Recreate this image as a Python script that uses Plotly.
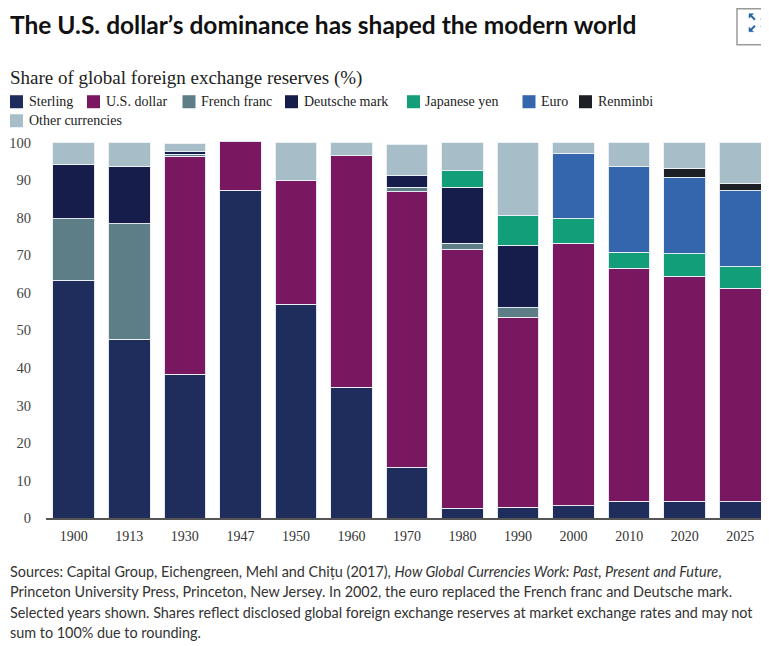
import plotly.graph_objects as go

years = ["1900", "1913", "1930", "1947", "1950", "1960", "1970",
         "1980", "1990", "2000", "2010", "2020", "2025"]
sterling = [63.3, 47.6, 38.3, 87.4, 57.0, 34.9, 13.4, 2.6, 2.8, 3.3, 4.5, 4.5, 4.3]
us_dollar = [None, None, 58.1, 13.0, 33.0, 61.7, 73.6, 68.9, 50.7, 69.9, 62.1, 59.9, 56.9]
french_franc = [16.4, 30.8, 0.6, None, None, None, 1.2, 1.7, 2.5, None, None, None, None]
deutsche_mark = [14.6, 15.4, 0.6, None, None, None, 3.1, 15.0, 16.7, None, None, None, None]
japanese_yen = [None, None, None, None, None, None, None, 4.4, 8.0, 6.5, 4.2, 6.0, 5.7]
euro = [None, None, None, None, None, None, None, None, None, 17.5, 23.0, 20.4, 20.3]
renminbi = [None, None, None, None, None, None, None, None, None, None, None, 2.4, 2.0]
other = [5.7, 6.2, 2.1, None, 10.0, 3.4, 8.3, 7.4, 19.3, 2.8, 6.2, 6.8, 10.8]

series_names = ["Sterling", "U.S. dollar", "French franc", "Deutsche mark",
                "Japanese yen", "Euro", "Renminbi", "Other currencies"]
series_values = [sterling, us_dollar, french_franc, deutsche_mark,
                 japanese_yen, euro, renminbi, other]
colors = ["#1e2d5c", "#7a1761", "#5d7d87", "#161d4a",
          "#129e78", "#3366ad", "#1c2024", "#a7bec8"]

# The page body has an 8px margin: lay the figure out in page pixels and
# shift everything by that offset.
OFF = 8
PAGE_W, PAGE_H = 769, 646
W, H = PAGE_W - OFF, PAGE_H - OFF
L = 46 - OFF
R = 1
PB = 518.0 - OFF          # figure pixel y of the zero line
YMAX = 101
PX_PER_UNIT = 3.75
PT = PB - YMAX * PX_PER_UNIT
T, B = PT, H - PB
PW = W - L - R
PH = PB - PT

def px2x(px):
    return (px - OFF - L) / PW

def px2y(py):
    return (PB - (py - OFF)) / PH

SERIF = "Liberation Serif, Times New Roman, serif"
SANS = "Lato, Noto Sans, sans-serif"

fig = go.Figure()
for name, vals, col in zip(series_names, series_values, colors):
    fig.add_trace(go.Bar(
        x=years, y=vals, name=name,
        marker=dict(color=col, line=dict(color="rgba(235,240,246,0.95)", width=1)),
        showlegend=False,
    ))

shapes = []
annotations = []

# Custom legend (swatch + label), page pixel positions
legend_pos = [(10, 102), (87, 102), (182.5, 102), (285, 102),
              (407, 102), (522.5, 102), (579, 102), (10, 121)]
for (lx, ly), name, col in zip(legend_pos, series_names, colors):
    shapes.append(dict(type="rect", xref="paper", yref="paper",
                       x0=px2x(lx), x1=px2x(lx + 13),
                       y0=px2y(ly + 6.5), y1=px2y(ly - 6.5),
                       fillcolor=col, line=dict(width=0)))
    annotations.append(dict(text=name, xref="paper", yref="paper",
                            x=px2x(lx + 16.5), y=px2y(ly), xanchor="left", yanchor="middle",
                            showarrow=False, font=dict(family=SERIF, size=14, color="#222")))

# Title (anchored to the top edge of the figure)
annotations.append(dict(text="<b>The U.S. dollar’s dominance has shaped the modern world</b>",
                        xref="paper", yref="paper", x=px2x(8), y=px2y(OFF),
                        xanchor="left", yanchor="top", showarrow=False,
                        font=dict(family=SANS, size=24.5, color="#111")))
# Subtitle
annotations.append(dict(text="Share of global foreign exchange reserves (%)",
                        xref="paper", yref="paper", x=px2x(8), y=px2y(78),
                        xanchor="left", yanchor="middle", showarrow=False,
                        font=dict(family=SERIF, size=19, color="#222")))

# Footer notes
notes = [
    "Sources: Capital Group, Eichengreen, Mehl and Chițu (2017), <i>How Global Currencies Work: Past, Present and Future</i>,",
    "Princeton University Press, Princeton, New Jersey. In 2002, the euro replaced the French franc and Deutsche mark.",
    "Selected years shown. Shares reflect disclosed global foreign exchange reserves at market exchange rates and may not",
    "sum to 100% due to rounding.",
]
for i, line in enumerate(notes):
    annotations.append(dict(text=line, xref="paper", yref="paper",
                            x=px2x(8), y=px2y(571 + i * 20.5),
                            xanchor="left", yanchor="middle", showarrow=False,
                            font=dict(family=SANS, size=14.4, color="#333")))

# Expand icon: box with four small corner arrows (drawn as paths)
shapes.append(dict(type="rect", xref="paper", yref="paper",
                   x0=px2x(737), x1=px2x(790), y0=px2y(45), y1=px2y(9),
                   line=dict(color="#9a9a9a", width=1.5), fillcolor="white"))
ICON_BLUE = "#2a64a4"
for tx, ty, sx, sy in [(749, 14, 1, 1), (767, 14, -1, 1), (749, 32, 1, -1), (767, 32, -1, -1)]:
    pts = [(tx, ty), (tx + 4.5 * sx, ty), (tx, ty + 4.5 * sy)]
    path = "M {} {} L {} {} L {} {} Z".format(*[v for p in pts for v in (px2x(p[0]), px2y(p[1]))])
    shapes.append(dict(type="path", xref="paper", yref="paper", path=path,
                       fillcolor=ICON_BLUE, line=dict(color=ICON_BLUE, width=0.5)))
    shapes.append(dict(type="line", xref="paper", yref="paper",
                       x0=px2x(tx + 1.5 * sx), y0=px2y(ty + 1.5 * sy),
                       x1=px2x(tx + 6 * sx), y1=px2y(ty + 6 * sy),
                       line=dict(color=ICON_BLUE, width=2)))

fig.update_layout(
    width=W, height=H,
    margin=dict(l=L, r=R, t=T, b=B, pad=0),
    paper_bgcolor="white", plot_bgcolor="white",
    barmode="stack", bargap=0.25,
    shapes=shapes, annotations=annotations,
    showlegend=False,
)
fig.update_xaxes(type="category", showline=True, linecolor="#555", linewidth=1.5,
                 showgrid=False, ticks="", ticklabelstandoff=4,
                 tickfont=dict(family=SERIF, size=14, color="#333"))
fig.update_yaxes(range=[0, YMAX], tickvals=list(range(0, 101, 10)),
                 showgrid=False, zeroline=False, showline=False, ticks="",
                 ticklabelstandoff=14,
                 tickfont=dict(family=SERIF, size=14.5, color="#444"))

fig.write_html("out.html")
